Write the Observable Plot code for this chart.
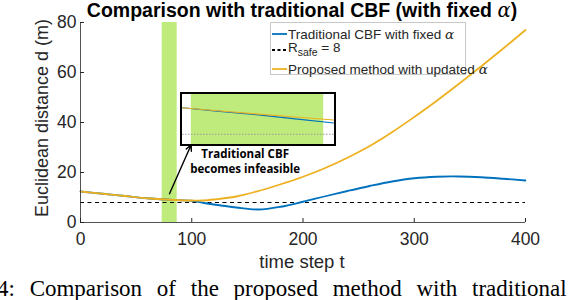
<!DOCTYPE html>
<html>
<head>
<meta charset="utf-8">
<script src="https://cdn.jsdelivr.net/npm/d3@7"></script>
<script src="https://cdn.jsdelivr.net/npm/@observablehq/plot@0.6"></script>
<style>
  html, body { margin: 0; padding: 0; background: #fff; }
  #wrap { position: relative; width: 568px; height: 300px; overflow: hidden; font-family: "Liberation Sans", Arial, sans-serif; color: #262626; }
  .abs { position: absolute; white-space: nowrap; }
</style>
</head>
<body>
<div id="wrap"></div>
<script>
// ---- data ----
const tVals      = [0, 20, 40, 60, 80, 90, 100, 110, 120, 140, 160, 180, 200, 220, 240, 260, 280, 300, 320, 340, 360, 380, 400];
const orangeVals = [12.4, 11.5, 10.6, 9.7, 9.1, 8.9, 8.8, 8.8, 9.2, 10.4, 12.6, 15.3, 18.3, 21.8, 25.9, 30.6, 36.1, 42.2, 48.6, 55.4, 62.4, 69.6, 77];
const blueVals   = [12.4, 11.5, 10.6, 9.7, 9.1, 8.9, 8.7, 7.9, 7.2, 6.0, 5.2, 6.3, 8.3, 10.5, 12.6, 14.6, 16.4, 17.7, 18.3, 18.4, 18.1, 17.5, 16.8];
const rSafe = 8;
const bandT = [73.4, 86.9];
const xTicks = [0, 100, 200, 300, 400];
const yTicks = [0, 20, 40, 60, 80];

// inset (zoomed view around the infeasible region)
const insetT      = [72.5, 76, 80, 84, 88];
const insetOrange = [9.3, 9.15, 9.0, 8.85, 8.7];
const insetBlue   = [9.3, 9.14, 8.96, 8.76, 8.55];
const insetXDomain = [72.5, 88];
const insetYDomain = [7.5, 9.95];
const insetBox = {t1: 91, t2: 228, d1: 31.5, d2: 51.5};

// annotation
const arrowFrom = [80, 11.5];
const arrowTo   = [99.5, 31.1];
const noteAt    = [148, 24.6];
const noteText  = "Traditional CBF\nbecomes infeasible";

const BLUE = "#0072BD", ORANGE = "#EDB120", GREEN = "#bfeb7c", AX = "#262626";

const main = tVals.map((t, i) => ({t, orange: orangeVals[i], blue: blueVals[i]}));
const inset = insetT.map((t, i) => ({t, orange: insetOrange[i], blue: insetBlue[i]}));

const wrap = document.getElementById("wrap");

const chart = Plot.plot({
  width: 568, height: 300,
  marginLeft: 80, marginRight: 43, marginTop: 22, marginBottom: 78,
  style: {fontFamily: "Liberation Sans, Arial, sans-serif", fontSize: "17.5px", color: AX, background: "transparent", overflow: "visible"},
  x: {domain: [0, 400], ticks: xTicks},
  y: {domain: [0, 80], ticks: yTicks},
  marks: [
    Plot.rect([{a: bandT[0], b: bandT[1]}], {x1: "a", x2: "b", y1: 0, y2: 80, fill: GREEN}),
    Plot.ruleY([rSafe], {stroke: "black", strokeWidth: 1.1, strokeDasharray: "4,3.5"}),
    Plot.line(main, {x: "t", y: "blue", stroke: BLUE, strokeWidth: 1.8, curve: "catmull-rom"}),
    Plot.line(main, {x: "t", y: "orange", stroke: ORANGE, strokeWidth: 1.8, curve: "catmull-rom"}),
    Plot.arrow([{x1: arrowFrom[0], y1: arrowFrom[1], x2: arrowTo[0], y2: arrowTo[1]}], {x1: "x1", y1: "y1", x2: "x2", y2: "y2", stroke: "black", strokeWidth: 1.4, headLength: 7, headAngle: 50}),
    Plot.text([noteText], {x: noteAt[0], y: noteAt[1], text: d => d, fontWeight: "bold", fontSize: 11.5, lineHeight: 1.3, fill: "black", fontFamily: "Open Sans, sans-serif"}),
    Plot.ruleX([0], {stroke: AX, strokeWidth: 0.8}),
    Plot.ruleY([0], {stroke: AX, strokeWidth: 0.8}),
    Plot.axisX({ticks: xTicks, tickSize: -4, tickPadding: 14, stroke: AX, fill: AX, label: null, fontSize: 17.5}),
    Plot.axisY({ticks: yTicks, tickSize: -4, tickPadding: 8, stroke: AX, fill: AX, label: null, fontSize: 17.5})
  ]
});
chart.style.position = "absolute";
chart.style.left = "0px";
chart.style.top = "0px";
wrap.appendChild(chart);

// inset positioned through the main chart's scales
const sx = chart.scale("x"), sy = chart.scale("y");
const iL = sx.apply(insetBox.t1), iR = sx.apply(insetBox.t2);
const iT = sy.apply(insetBox.d2), iB = sy.apply(insetBox.d1);
const insetBoxDiv = document.createElement("div");
insetBoxDiv.className = "abs";
const iw = Math.round(iR - iL), ih = Math.round(iB - iT);
Object.assign(insetBoxDiv.style, {left: (iL - 1) + "px", top: (iT - 1) + "px", width: iw + "px", height: ih + "px", border: "2px solid black", background: "white", boxSizing: "content-box", overflow: "hidden"});
const insetChart = Plot.plot({
  width: iw, height: ih, margin: 0,
  style: {background: "white"},
  x: {domain: insetXDomain, axis: null},
  y: {domain: insetYDomain, axis: null},
  marks: [
    Plot.rect([{a: bandT[0], b: bandT[1]}], {x1: "a", x2: "b", y1: insetYDomain[0], y2: insetYDomain[1], fill: GREEN}),
    Plot.ruleY([rSafe], {stroke: "#999", strokeWidth: 1, strokeDasharray: "1.5,1.5"}),
    Plot.line(inset, {x: "t", y: "blue", stroke: BLUE, strokeWidth: 1.2}),
    Plot.line(inset, {x: "t", y: "orange", stroke: ORANGE, strokeWidth: 1.1})
  ]
});
insetChart.style.display = "block";
insetBoxDiv.appendChild(insetChart);
wrap.appendChild(insetBoxDiv);

// title
const title = document.createElement("div");
title.className = "abs";
title.innerHTML = 'Comparison with traditional CBF (with fixed <i style="font-family:\'DejaVu Serif\',serif;font-weight:normal">α</i>)';
Object.assign(title.style, {left: "302px", top: "-1px", transform: "translateX(-50%)", fontWeight: "bold", fontSize: "19.5px", color: "black", lineHeight: "22px"});
wrap.appendChild(title);

// y-axis title
const ylab = document.createElement("div");
ylab.className = "abs";
ylab.textContent = "Euclidean distance d (m)";
Object.assign(ylab.style, {left: "42px", top: "118px", transform: "translate(-50%,-50%) rotate(-90deg)", fontSize: "18px", color: AX});
wrap.appendChild(ylab);

// x-axis title
const xlab = document.createElement("div");
xlab.className = "abs";
xlab.textContent = "time step t";
Object.assign(xlab.style, {left: "302px", top: "262px", transform: "translate(-50%,-50%)", fontSize: "18.5px", color: AX});
wrap.appendChild(xlab);

// legend
const legend = document.createElement("div");
legend.className = "abs";
Object.assign(legend.style, {left: "270px", top: "22px", width: "196px", height: "53px", background: "white", border: "1px solid #c8c8c8", boxSizing: "border-box"});
wrap.appendChild(legend);
const legendItems = [
  {html: 'Traditional CBF with fixed <i style="font-family:\'DejaVu Serif\',serif">α</i>', stroke: BLUE, dash: null, y: 10.5},
  {html: 'R<sub style="font-size:10.5px;vertical-align:-4px">safe</sub> = 8', stroke: "black", dash: "3,2.5", y: 26.5},
  {html: 'Proposed method with updated <i style="font-family:\'DejaVu Serif\',serif">α</i>', stroke: ORANGE, dash: null, y: 45.5}
];
for (const it of legendItems) {
  const sw = document.createElementNS("http://www.w3.org/2000/svg", "svg");
  sw.setAttribute("width", "16"); sw.setAttribute("height", "6");
  sw.style.position = "absolute"; sw.style.left = "1px"; sw.style.top = (it.y - 3) + "px";
  const ln = document.createElementNS("http://www.w3.org/2000/svg", "line");
  ln.setAttribute("x1", "0"); ln.setAttribute("x2", "15"); ln.setAttribute("y1", "3"); ln.setAttribute("y2", "3");
  ln.setAttribute("stroke", it.stroke); ln.setAttribute("stroke-width", "1.8");
  if (it.dash) ln.setAttribute("stroke-dasharray", it.dash);
  sw.appendChild(ln);
  legend.appendChild(sw);
  const tx = document.createElement("div");
  tx.className = "abs";
  tx.innerHTML = it.html;
  Object.assign(tx.style, {left: "17px", top: it.y + "px", transform: "translateY(-50%)", fontSize: "13.5px", color: AX, lineHeight: "15px"});
  legend.appendChild(tx);
}

// figure caption (runs off the page edges, as in the reference)
const cap = document.createElement("div");
cap.className = "abs";
cap.textContent = "4: Comparison of the proposed method with traditional";
Object.assign(cap.style, {left: "-3px", top: "276px", fontFamily: "'Liberation Serif', 'Times New Roman', serif", fontSize: "23px", wordSpacing: "9px", color: "black", lineHeight: "26px"});
wrap.appendChild(cap);
</script>
</body>
</html>
